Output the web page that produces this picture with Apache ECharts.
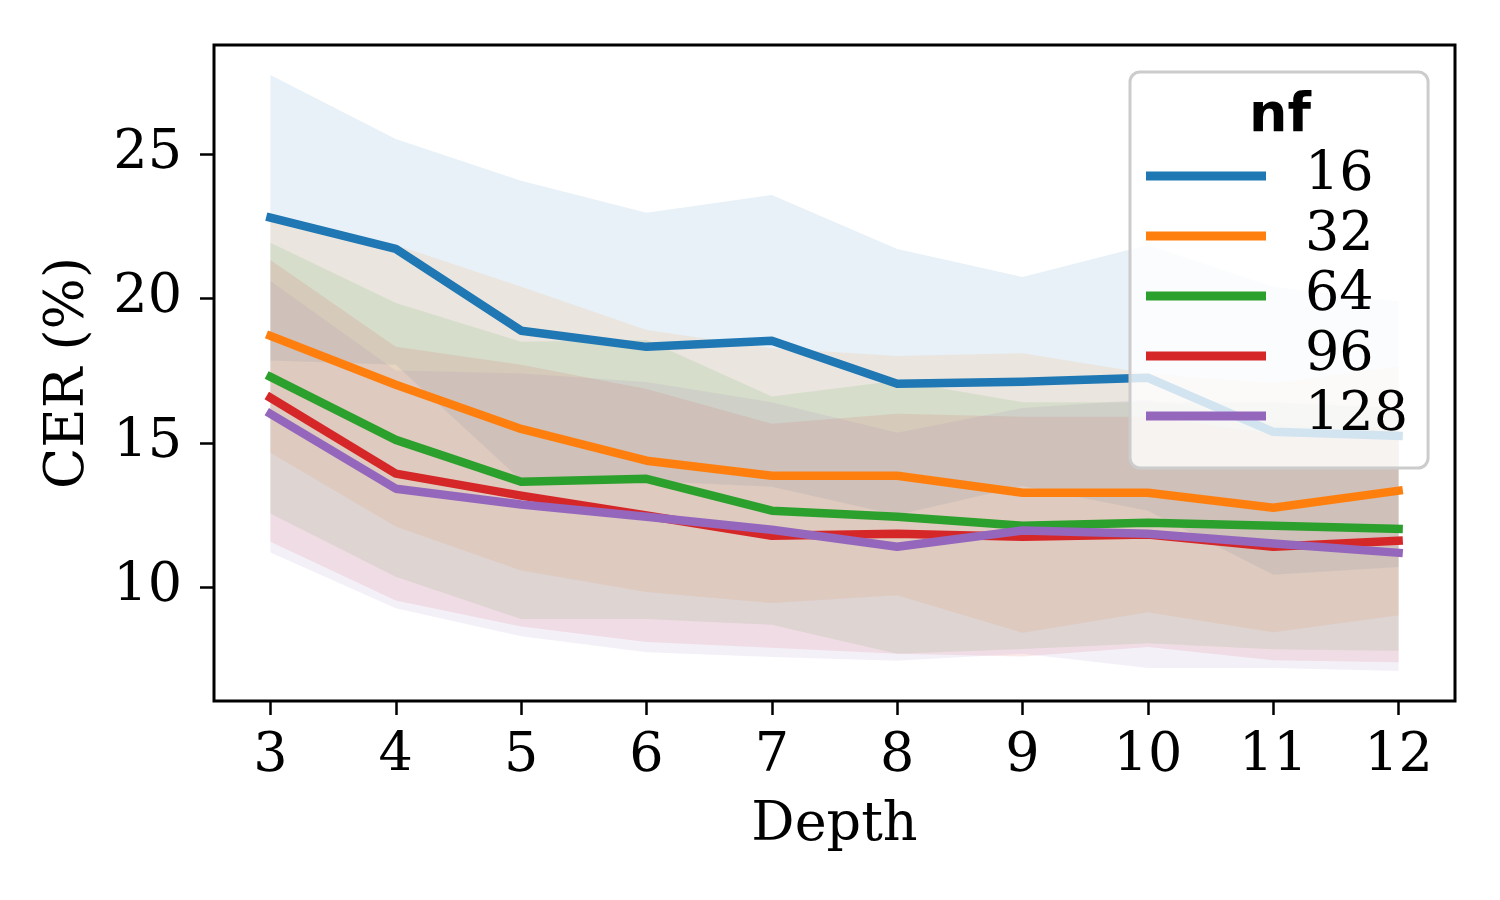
<!DOCTYPE html>
<html>
<head>
<meta charset="utf-8">
<title>CER vs Depth</title>
<script src="https://cdn.jsdelivr.net/npm/echarts@6/dist/echarts.min.js"></script>
<style>
  html, body { margin: 0; padding: 0; background: #fff; }
  #chart { width: 1500px; height: 900px; }
</style>
</head>
<body>
<div id="chart"></div>
<script>
// depth values on the x axis
const depths = [3, 4, 5, 6, 7, 8, 9, 10, 11, 12];
const xTicks = [3, 4, 5, 6, 7, 8, 9, 10, 11, 12];
const yTicks = [10, 15, 20, 25];

// mean CER per nf
const names = ["16", "32", "64", "96", "128"];
const mean16 = [22.79, 21.71, 18.88, 18.32, 18.53, 17.04, 17.11, 17.25, 15.38, 15.24];
const mean32 = [18.70, 17.01, 15.48, 14.38, 13.86, 13.86, 13.27, 13.27, 12.75, 13.34];
const mean64 = [17.28, 15.10, 13.65, 13.75, 12.65, 12.44, 12.13, 12.23, 12.13, 12.02];
const mean96 = [16.56, 13.93, 13.17, 12.48, 11.78, 11.85, 11.75, 11.82, 11.40, 11.61];
const mean128 = [16.00, 13.41, 12.86, 12.44, 11.99, 11.40, 11.96, 11.85, 11.51, 11.19];

// shaded band edges
const upper16 = [27.73, 25.52, 24.07, 22.96, 23.58, 21.71, 20.74, 21.85, 20.40, 19.90];
const lower16 = [17.85, 17.70, 13.70, 13.68, 13.48, 12.50, 13.50, 12.65, 10.43, 10.70];
const upper32 = [22.70, 21.85, 20.40, 18.90, 18.27, 18.00, 18.10, 17.40, 17.06, 17.65];
const lower32 = [14.65, 12.10, 10.58, 9.83, 9.45, 9.72, 8.42, 9.13, 8.44, 9.03];
const upper64 = [21.92, 19.84, 18.50, 18.56, 16.60, 17.15, 16.40, 16.40, 16.40, 16.20];
const lower64 = [12.55, 10.36, 8.90, 8.90, 8.70, 7.70, 7.86, 8.06, 7.85, 7.80];
const upper96 = [21.33, 18.32, 17.70, 16.86, 15.66, 16.00, 15.90, 15.90, 15.30, 15.60];
const lower96 = [11.57, 9.54, 8.64, 8.10, 7.90, 7.70, 7.60, 7.93, 7.47, 7.40];
const upper128 = [20.60, 17.50, 17.40, 17.10, 16.40, 15.35, 16.20, 16.50, 15.70, 15.20];
const lower128 = [11.20, 9.27, 8.30, 7.75, 7.58, 7.45, 7.70, 7.20, 7.20, 7.10];

const colors = ["#1f77b4", "#ff7f0e", "#2ca02c", "#d62728", "#9467bd"];
const means = [mean16, mean32, mean64, mean96, mean128];
const uppers = [upper16, upper32, upper64, upper96, upper128];
const lowers = [lower16, lower32, lower64, lower96, lower128];

const serif = "DejaVu Serif";

function pairs(ys) {
  return depths.map((d, i) => [d, ys[i]]);
}

// one polygon per band, drawn once from the first item
function bandRenderer(k) {
  return function (params, api) {
    if (params.dataIndex !== 0) return;
    const pts = [];
    for (let i = 0; i < depths.length; i++) {
      pts.push(api.coord([depths[i], uppers[k][i]]));
    }
    for (let i = depths.length - 1; i >= 0; i--) {
      pts.push(api.coord([depths[i], lowers[k][i]]));
    }
    return {
      type: "polygon",
      shape: { points: pts },
      style: { fill: colors[k], opacity: 0.1 },
    };
  };
}

const series = [];
names.forEach((name, k) => {
  series.push({
    name: name + " band",
    type: "custom",
    data: depths.map((d, i) => [d, lowers[k][i], uppers[k][i]]),
    encode: { x: 0, y: [1, 2] },
    renderItem: bandRenderer(k),
    silent: true,
  });
  series.push({
    name: name,
    type: "line",
    data: pairs(means[k]),
    symbol: "none",
    color: colors[k],
    lineStyle: { color: colors[k], width: 8.5, cap: "square", join: "round" },
  });
});

const chart = echarts.init(document.getElementById("chart"), null, { renderer: "canvas" });
chart.setOption({
  animation: false,
  backgroundColor: "#fff",
  grid: {
    left: 214,
    top: 45,
    right: 45,
    bottom: 199,
    show: true,
    borderColor: "#000",
    borderWidth: 3,
    backgroundColor: "#fff",
  },
  xAxis: {
    type: "value",
    min: 2.55,
    max: 12.45,
    name: "Depth",
    nameLocation: "middle",
    nameGap: 98,
    nameTextStyle: { fontFamily: serif, fontSize: 54, color: "#000" },
    axisLine: { show: false },
    splitLine: { show: false },
    axisTick: {
      show: true,
      length: 14,
      customValues: xTicks,
      lineStyle: { color: "#000", width: 2.5 },
    },
    axisLabel: {
      customValues: xTicks,
      fontFamily: serif,
      fontSize: 54,
      color: "#000",
      margin: 29,
    },
  },
  yAxis: {
    type: "value",
    min: 6.06,
    max: 28.77,
    name: "CER (%)",
    nameLocation: "middle",
    nameRotate: 90,
    nameGap: 118,
    nameTextStyle: { fontFamily: serif, fontSize: 54, color: "#000" },
    axisLine: { show: false },
    splitLine: { show: false },
    axisTick: {
      show: true,
      length: 14,
      customValues: yTicks,
      lineStyle: { color: "#000", width: 2.5 },
    },
    axisLabel: {
      customValues: yTicks,
      fontFamily: serif,
      fontSize: 54,
      color: "#000",
      margin: 32,
    },
  },
  legend: {
    data: names,
    orient: "vertical",
    left: 1130,
    top: 72,
    padding: [74, 20, 22, 16],
    itemGap: 0,
    itemWidth: 120,
    itemHeight: 9,
    icon: "rect",
    selectedMode: false,
    backgroundColor: "rgba(255,255,255,0.8)",
    borderColor: "#cccccc",
    borderWidth: 3,
    borderRadius: 10,
    textStyle: {
      fontFamily: serif,
      fontSize: 54,
      lineHeight: 54,
      color: "#000",
      padding: [6, 0, 0, 34],
    },
  },
  graphic: [
    {
      type: "text",
      z: 100,
      x: 1280,
      y: 117,
      style: {
        text: "nf",
        fill: "#000",
        font: "bold 54px 'DejaVu Sans'",
        textAlign: "center",
        textVerticalAlign: "middle",
      },
    },
  ],
  series: series,
});
</script>
</body>
</html>
